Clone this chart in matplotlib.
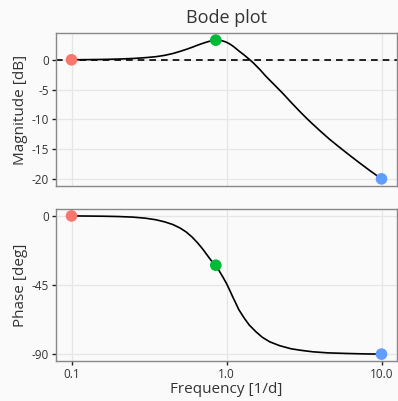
import numpy as np
import matplotlib.pyplot as plt

# magnitude curve
mag_freq = [0.1, 0.13, 0.16, 0.2, 0.25, 0.3, 0.35, 0.4, 0.45, 0.5, 0.55, 0.6,
            0.65, 0.7, 0.75, 0.8, 0.853, 0.9, 0.95, 1.0, 1.05, 1.1, 1.15, 1.2,
            1.3, 1.4, 1.5, 1.65, 1.8, 2.0, 2.3, 2.6, 3.0, 3.4, 4.0, 4.6, 5.3,
            6.2, 7.2, 8.5, 10.0]
mag_db = [0.0, 0.03, 0.06, 0.12, 0.22, 0.36, 0.52, 0.75, 1.05, 1.4, 1.75, 2.1,
          2.45, 2.75, 3.0, 3.2, 3.3, 3.3, 3.15, 2.95, 2.65, 2.3, 1.9, 1.5,
          0.8, 0.1, -0.6, -1.7, -2.8, -4.0, -5.6, -7.1, -8.8, -10.2, -11.9,
          -13.3, -14.6, -16.0, -17.3, -18.7, -20.0]

# phase curve
ph_freq = [0.1, 0.13, 0.16, 0.2, 0.25, 0.3, 0.35, 0.4, 0.45, 0.5, 0.55, 0.6,
           0.65, 0.7, 0.75, 0.8, 0.853, 0.9, 0.95, 1.0, 1.05, 1.1, 1.15, 1.2,
           1.3, 1.4, 1.55, 1.7, 1.9, 2.2, 2.6, 3.0, 3.6, 4.5, 6.0, 8.0, 10.0]
ph_deg = [0, -0.1, -0.2, -0.4, -0.8, -1.5, -2.5, -3.9, -5.6, -7.8, -10.5, -13.8,
          -17.5, -21.4, -25.5, -29.3, -32.1, -36, -40, -44, -48.5, -53, -57,
          -61, -66.5, -71, -75.5, -79, -82, -84.5, -86.5, -87.5, -88.5, -89.2,
          -89.6, -89.9, -90]

# highlighted points
pt_freq = [0.1, 0.853, 10.0]
pt_mag = [0.0, 3.3, -20.0]
pt_ph = [0.0, -32.1, -90.0]
pt_col = ['#F8766D', '#00BA38', '#619CFF']

plt.rcParams['font.family'] = ['Open Sans', 'DejaVu Sans']
bg = '#FAFAFA'

fig = plt.figure(figsize=(3.98, 4.01), dpi=100, facecolor=bg)
W, H = 398, 401
ax1 = fig.add_axes([56 / W, 1 - 186 / H, (397 - 56) / W, (186 - 33) / H])
ax2 = fig.add_axes([56 / W, 1 - 361 / H, (397 - 56) / W, (361 - 209) / H])

for ax in (ax1, ax2):
    ax.set_facecolor(bg)
    ax.set_xscale('log')
    ax.set_xlim(10 ** -1.1, 10 ** 1.1)
    ax.grid(True, color='#E6E6E6', linewidth=0.9)
    ax.minorticks_off()
    for s in ax.spines.values():
        s.set_color('#888888')
        s.set_linewidth(1.0)
    ax.tick_params(length=3, width=1, color='#222222', labelsize=8.5,
                   labelcolor='#333333', pad=2)
    ax.set_axisbelow(True)

ax1.axhline(0, color='black', linestyle=(0, (4, 3)), linewidth=1.2)
ax1.plot(mag_freq, mag_db, color='black', linewidth=1.2)
ax1.scatter(pt_freq, pt_mag, c=pt_col, s=70, zorder=5, edgecolors='none')
ax1.set_ylim(-21.2, 4.5)
ax1.set_yticks([0, -5, -10, -15, -20])
ax1.set_yticklabels(['0', '-5', '-10', '-15', '-20'])
ax1.set_xticks([0.1, 1.0, 10.0])
ax1.tick_params(axis='x', length=0, labelbottom=False)
ax1.set_ylabel('Magnitude [dB]', fontsize=11, color='#333333', labelpad=3)
ax1.set_title('Bode plot', fontsize=13, color='#333333', pad=7)

ax2.plot(ph_freq, ph_deg, color='black', linewidth=1.2)
ax2.scatter(pt_freq, pt_ph, c=pt_col, s=70, zorder=5, edgecolors='none')
ax2.set_ylim(-94.5, 4.5)
ax2.set_yticks([0, -45, -90])
ax2.set_yticklabels(['0', '-45', '-90'])
ax2.set_xticks([0.1, 1.0, 10.0])
ax2.set_xticklabels(['0.1', '1.0', '10.0'])
ax2.set_ylabel('Phase [deg]', fontsize=11, color='#333333', labelpad=3)
ax2.set_xlabel('Frequency [1/d]', fontsize=11, color='#333333', labelpad=1)

fig.savefig('out.png', dpi=100, facecolor=bg)
